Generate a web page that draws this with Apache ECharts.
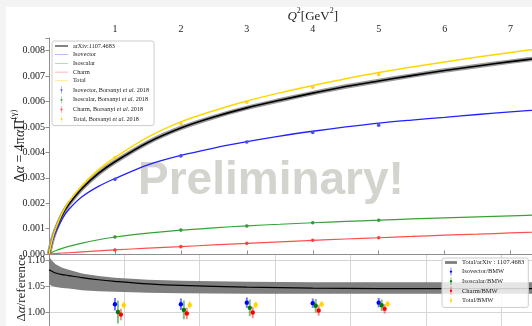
<!DOCTYPE html>
<html><head><meta charset="utf-8">
<script src="https://cdn.jsdelivr.net/npm/echarts@6/dist/echarts.min.js"></script>
<style>
html,body{margin:0;padding:0;background:#f4f4f4;overflow:hidden;}
#paper{position:absolute;left:6px;top:7px;width:526px;height:319px;background:#fff;}
#chart{position:absolute;left:0;top:0;width:532px;height:326px;}
</style></head><body>
<div id="paper"></div><div id="chart"></div>
<script>
// Q^2 sampling of the model curves [GeV^2]
const q2 = [0,0.05,0.1,0.2,0.3,0.5,0.75,1,1.5,2,2.5,3,3.5,4,4.5,5,5.5,6,6.5,7,7.5,8];
const arxivCurve = [0,0.00055,0.00094,0.00153,0.00196,0.00258,0.00317,0.00363,0.00439,0.00496,0.00539,0.00575,0.00605,0.00633,0.00659,0.00681,0.00702,0.00722,0.0074,0.00757,0.00773,0.00789];
const isovectorCurve = [0,0.0005,0.00085,0.00138,0.00175,0.00225,0.00266,0.00297,0.00351,0.00388,0.00417,0.00442,0.00464,0.00483,0.005,0.00515,0.00527,0.00538,0.00549,0.00559,0.00569,0.00578];
const isoscalarCurve = [0,0.00007,0.00013,0.00022,0.0003,0.00043,0.00056,0.00067,0.00082,0.00094,0.00103,0.00111,0.00117,0.00123,0.00128,0.00133,0.00138,0.00142,0.00146,0.0015,0.00154,0.00157];
const charmCurve = [0,0.00001,0.00002,0.00004,0.00005,0.00008,0.00012,0.00016,0.00023,0.00029,0.00036,0.00042,0.00048,0.00054,0.00059,0.00064,0.00069,0.00074,0.00078,0.00083,0.00087,0.00091];
const totalCurve = [0,0.00058,0.00098,0.0016,0.00205,0.0027,0.00332,0.0038,0.0046,0.0052,0.00564,0.00602,0.00634,0.00663,0.0069,0.00714,0.00736,0.00756,0.00775,0.00793,0.0081,0.00826];

// Lattice points (Borsanyi et al. 2018)
const latQ2 = [1,2,3,4,5];
const latIsovector = [0.00294,0.00386,0.00441,0.00478,0.00507];
const latIsoscalar = [0.00067,0.00094,0.0011,0.00123,0.00133];
const latCharm = [0.00016,0.00029,0.00042,0.00054,0.00064];
const latTotal = [0.00379,0.00514,0.00597,0.00656,0.00706];
const latErr = [0.00005,0.00005,0.00005,0.00005,0.00005];

// Ratio panel: arXiv:1107.4683 total relative to reference
const ratioQ2 = [0,0.05,0.1,0.2,0.3,0.5,0.75,1,1.5,2,3,4,5,6,7,8];
const ratioCenter = [1.081,1.078,1.075,1.072,1.07,1.066,1.062,1.059,1.054,1.051,1.048,1.046,1.045,1.045,1.045,1.045];
const ratioUpper = [1.106,1.098,1.092,1.085,1.081,1.074,1.069,1.066,1.062,1.06,1.058,1.057,1.057,1.057,1.057,1.057];
const ratioLower = [1.053,1.05,1.048,1.046,1.045,1.042,1.04,1.039,1.037,1.036,1.035,1.035,1.035,1.035,1.035,1.035];

// BMW ratios with errors
const bmwIsovector = [1.015,1.015,1.018,1.017,1.018];
const bmwIsovectorErr = [0.012,0.011,0.010,0.009,0.009];
const bmwIsoscalar = [1.000,1.004,1.008,1.012,1.013];
const bmwIsoscalarErr = [0.022,0.018,0.016,0.013,0.011];
const bmwCharm = [0.995,0.997,0.999,1.003,1.006];
const bmwCharmErr = [0.011,0.011,0.011,0.010,0.009];
const bmwTotal = [1.013,1.0135,1.0135,1.015,1.0155];
const bmwTotalErr = [0.007,0.007,0.007,0.006,0.006];

const SERIF = 'Liberation Serif';
const zip = (xs, ys) => xs.map((x, i) => [x, ys[i]]);
const zip3 = (xs, ys, es, dx) => xs.map((x, i) => [x + (dx || 0), ys[i], es[i]]);
const onStep = (v, step) => Math.abs(v / step - Math.round(v / step)) < 1e-6;

function errorRender(color, barColor, r, bw) {
  return function (params, api) {
    const x = api.value(0), y = api.value(1), e = api.value(2);
    const p = api.coord([x, y]);
    const hi = api.coord([x, y + e]);
    const lo = api.coord([x, y - e]);
    return {
      type: 'group',
      children: [
        { type: 'line', shape: { x1: p[0], y1: hi[1], x2: p[0], y2: lo[1] },
          style: { stroke: barColor, lineWidth: bw } },
        { type: 'circle', shape: { cx: p[0], cy: p[1], r: r }, style: { fill: color } }
      ]
    };
  };
}

// closed band polygon between the lower and upper ratio edges
function bandRender(params, api) {
  if (params.dataIndex !== 0) return null;
  const top = ratioQ2.map((x, i) => api.coord([x, ratioUpper[i]]));
  const bot = ratioQ2.map((x, i) => api.coord([x, ratioLower[i]])).reverse();
  return {
    type: 'polygon',
    shape: { points: top.concat(bot) },
    style: { fill: '#7f7f7f' }
  };
}

const ptIcon = 'path://M9.4,0 L10.6,0 L10.6,20 L9.4,20 Z M13,10 A3,3 0 1 1 7,10 A3,3 0 1 1 13,10 Z';
const bandIcon = 'path://M0,0 L40,0 L40,9 L0,9 Z';
const lineIcon = 'path://M0,4 L20,4 L20,5 L0,5 Z';

const axisGray = '#8e8e8e';
const labelStyle = { fontFamily: SERIF, fontSize: 10, color: '#222' };

const chart = echarts.init(document.getElementById('chart'), null, { renderer: 'canvas' });

chart.setOption({
  animation: false,
  grid: [
    { left: 49, top: 38, right: -44.5, height: 216, outerBoundsMode: 'none', containLabel: false },
    { left: 49, top: 254, right: -44.5, height: 84, outerBoundsMode: 'none', containLabel: false }
  ],
  xAxis: [
    {
      gridIndex: 0, type: 'value', position: 'top', min: 0, max: 8, interval: 1,
      name: '{i|Q}{s|2}{n|[GeV}{s|2}{n|]}', nameLocation: 'middle', nameGap: 15, nameMoveOverlap: false,
      nameTextStyle: {
        rich: {
          i: { fontFamily: SERIF, fontSize: 13, fontStyle: 'italic', color: '#222', lineHeight: 16, verticalAlign: 'bottom' },
          n: { fontFamily: SERIF, fontSize: 13, color: '#222', lineHeight: 16, verticalAlign: 'bottom' },
          s: { fontFamily: SERIF, fontSize: 8, color: '#222', lineHeight: 16, verticalAlign: 'top' }
        }
      },
      axisLine: { lineStyle: { color: axisGray, width: 1 } },
      axisTick: { inside: false, length: 3.5, lineStyle: { color: axisGray } },
      axisLabel: Object.assign({ margin: 4, formatter: v => (v === 0 ? '' : String(v)) }, labelStyle),
      splitLine: { show: false }
    },
    {
      gridIndex: 1, type: 'value', position: 'bottom', min: 0, max: 8, interval: 8 / 7,
      axisLine: { show: false }, axisTick: { show: false }, axisLabel: { show: false },
      splitLine: { show: true, lineStyle: { color: '#d6d6d6', width: 1 } }
    }
  ],
  yAxis: [
    {
      gridIndex: 0, type: 'value', min: 0, max: 0.0085, interval: 0.001,
      name: '{n|Δ}{i|α}{n| = 4π}{i|α}{n|Π̄}{s|(γ)}', nameLocation: 'middle', nameRotate: 90,
      nameGap: 22, nameMoveOverlap: false,
      nameTextStyle: {
        rich: {
          n: { fontFamily: SERIF, fontSize: 14, color: '#222', lineHeight: 18, verticalAlign: 'bottom' },
          i: { fontFamily: SERIF, fontSize: 14, fontStyle: 'italic', color: '#222', lineHeight: 18, verticalAlign: 'bottom' },
          s: { fontFamily: SERIF, fontSize: 9, color: '#222', lineHeight: 18, verticalAlign: 'top' }
        }
      },
      axisLine: { show: true, lineStyle: { color: axisGray, width: 1 } },
      axisTick: { show: true, length: 3.5, lineStyle: { color: axisGray } },
      axisLabel: Object.assign({ margin: 4, formatter: v => (onStep(v, 0.001) ? v.toFixed(3) : '') }, labelStyle),
      splitLine: { show: false }
    },
    {
      gridIndex: 1, type: 'value', min: 0.95, max: 1.1115, interval: 0.05,
      name: '{n|Δ}{i|α}{n|/reference}', nameLocation: 'middle', nameRotate: 90,
      nameGap: 21, nameMoveOverlap: false,
      nameTextStyle: {
        padding: [0, 0, 0, 16],
        rich: {
          n: { fontFamily: SERIF, fontSize: 13, color: '#222' },
          i: { fontFamily: SERIF, fontSize: 13, fontStyle: 'italic', color: '#222' }
        }
      },
      axisLine: { show: true, lineStyle: { color: axisGray, width: 1 } },
      axisTick: { show: true, length: 3.5, lineStyle: { color: axisGray } },
      axisLabel: Object.assign({ margin: 4, formatter: v => (onStep(v - 0.95, 0.05) ? v.toFixed(2) : '') }, labelStyle),
      splitLine: { show: true, lineStyle: { color: '#d6d6d6', width: 1 } }
    }
  ],
  legend: [
    {
      left: 52, top: 41, orient: 'vertical',
      itemWidth: 13, itemHeight: 7, itemGap: 2.7,
      padding: [2, 5, 3, 3],
      backgroundColor: 'rgba(255,255,255,0.85)', borderColor: '#cccccc', borderWidth: 1, borderRadius: 2,
      textStyle: { fontFamily: SERIF, fontSize: 6.2, color: '#222',
        rich: { i: { fontFamily: SERIF, fontSize: 6.2, fontStyle: 'italic', color: '#222' } } },
      formatter: n => n.replace('et al.', '{i|et al.}'),
      data: [
        { name: 'arXiv:1107.4683', icon: 'path://M0,4 L20,4 L20,5.5 L0,5.5 Z', itemStyle: { color: '#000' } },
        { name: 'Isovector', icon: lineIcon, itemStyle: { color: '#8f8fff' } },
        { name: 'Isoscalar', icon: lineIcon, itemStyle: { color: '#8fca8f' } },
        { name: 'Charm', icon: lineIcon, itemStyle: { color: '#ff9090' } },
        { name: 'Total', icon: lineIcon, itemStyle: { color: '#ffe14d' } },
        { name: 'Isovector, Borsanyi et al. 2018', icon: ptIcon, itemStyle: { color: '#5050ff' } },
        { name: 'Isoscalar, Borsanyi et al. 2018', icon: ptIcon, itemStyle: { color: '#40a040' } },
        { name: 'Charm, Borsanyi et al. 2018', icon: ptIcon, itemStyle: { color: '#ff5050' } },
        { name: 'Total, Borsanyi et al. 2018', icon: ptIcon, itemStyle: { color: '#ffd92e' } }
      ]
    },
    {
      left: 442, top: 258, orient: 'vertical',
      itemWidth: 12, itemHeight: 8, itemGap: 1.6,
      padding: [1, 4, 3, 3],
      backgroundColor: 'rgba(255,255,255,0.8)', borderColor: '#cccccc', borderWidth: 1, borderRadius: 2,
      textStyle: { fontFamily: SERIF, fontSize: 6.5, color: '#222' },
      data: [
        { name: 'Total/arXiv : 1107.4683', icon: bandIcon, itemStyle: { color: '#7a7a7a' } },
        { name: 'Isovector/BMW', icon: ptIcon, itemStyle: { color: '#0000ff' } },
        { name: 'Isoscalar/BMW', icon: ptIcon, itemStyle: { color: '#008000' } },
        { name: 'Charm/BMW', icon: ptIcon, itemStyle: { color: '#ff0000' } },
        { name: 'Total/BMW', icon: ptIcon, itemStyle: { color: '#ffd700' } }
      ]
    }
  ],
  graphic: [
    {
      type: 'text', left: 138, top: 158, z: 0, silent: true,
      style: { text: 'Preliminary!', fontFamily: 'Liberation Sans', fontWeight: 'bold', fontSize: 46, fill: '#d3d4ce' }
    }
  ],
  series: [
    // uncertainty halo of the arXiv:1107.4683 curve
    { type: 'line', name: 'arXiv halo', xAxisIndex: 0, yAxisIndex: 0, data: zip(q2, arxivCurve),
      showSymbol: false, smooth: 0.3, silent: true, z: 3,
      lineStyle: { color: '#9a9a9a', width: 4.5 } },
    { type: 'line', name: 'arXiv:1107.4683', xAxisIndex: 0, yAxisIndex: 0, data: zip(q2, arxivCurve),
      showSymbol: false, smooth: 0.3, z: 4, lineStyle: { color: '#000', width: 1.6 } },
    { type: 'line', name: 'Isovector', xAxisIndex: 0, yAxisIndex: 0, data: zip(q2, isovectorCurve),
      showSymbol: false, smooth: 0.3, z: 4, lineStyle: { color: '#2222ff', width: 1.3 } },
    { type: 'line', name: 'Isoscalar', xAxisIndex: 0, yAxisIndex: 0, data: zip(q2, isoscalarCurve),
      showSymbol: false, smooth: 0.3, z: 4, lineStyle: { color: '#36a336', width: 1.2 } },
    { type: 'line', name: 'Charm', xAxisIndex: 0, yAxisIndex: 0, data: zip(q2, charmCurve),
      showSymbol: false, smooth: 0.3, z: 4, lineStyle: { color: '#ff4f4f', width: 1.2 } },
    { type: 'line', name: 'Total', xAxisIndex: 0, yAxisIndex: 0, data: zip(q2, totalCurve),
      showSymbol: false, smooth: 0.3, z: 4, lineStyle: { color: '#ffd700', width: 1.5 } },

    { type: 'custom', name: 'Isovector, Borsanyi et al. 2018', xAxisIndex: 0, yAxisIndex: 0, z: 5,
      data: zip3(latQ2, latIsovector, latErr), renderItem: errorRender('#4a4aff', '#4a4aff', 1.8, 1) },
    { type: 'custom', name: 'Isoscalar, Borsanyi et al. 2018', xAxisIndex: 0, yAxisIndex: 0, z: 5,
      data: zip3(latQ2, latIsoscalar, latErr), renderItem: errorRender('#3a9a3a', '#3a9a3a', 1.8, 1) },
    { type: 'custom', name: 'Charm, Borsanyi et al. 2018', xAxisIndex: 0, yAxisIndex: 0, z: 5,
      data: zip3(latQ2, latCharm, latErr), renderItem: errorRender('#ff4040', '#ff4040', 1.8, 1) },
    { type: 'custom', name: 'Total, Borsanyi et al. 2018', xAxisIndex: 0, yAxisIndex: 0, z: 5,
      data: zip3(latQ2, latTotal, latErr), renderItem: errorRender('#ffd21f', '#ffd21f', 1.8, 1) },

    { type: 'custom', name: 'Total/arXiv : 1107.4683', xAxisIndex: 1, yAxisIndex: 1, z: 2, clip: true,
      data: ratioQ2.map((x, i) => [x, ratioLower[i], ratioUpper[i]]), renderItem: bandRender },
    { type: 'line', name: 'ratio center', xAxisIndex: 1, yAxisIndex: 1, silent: true,
      data: zip(ratioQ2, ratioCenter), showSymbol: false, smooth: 0.3, lineStyle: { color: '#000', width: 1.2 }, z: 3 },

    { type: 'custom', name: 'Isovector/BMW', xAxisIndex: 1, yAxisIndex: 1, z: 5,
      data: zip3(latQ2, bmwIsovector, bmwIsovectorErr, 0), renderItem: errorRender('#0000ff', 'rgba(0,0,255,0.55)', 2.2, 2) },
    { type: 'custom', name: 'Isoscalar/BMW', xAxisIndex: 1, yAxisIndex: 1, z: 5,
      data: zip3(latQ2, bmwIsoscalar, bmwIsoscalarErr, 0.045), renderItem: errorRender('#007a00', 'rgba(0,128,0,0.5)', 2.2, 2) },
    { type: 'custom', name: 'Charm/BMW', xAxisIndex: 1, yAxisIndex: 1, z: 5,
      data: zip3(latQ2, bmwCharm, bmwCharmErr, 0.09), renderItem: errorRender('#ff0000', 'rgba(255,0,0,0.45)', 2.2, 2) },
    { type: 'custom', name: 'Total/BMW', xAxisIndex: 1, yAxisIndex: 1, z: 5,
      data: zip3(latQ2, bmwTotal, bmwTotalErr, 0.135), renderItem: errorRender('#ffd700', 'rgba(255,215,0,0.6)', 2.2, 2) }
  ]
});
</script>
</body></html>
